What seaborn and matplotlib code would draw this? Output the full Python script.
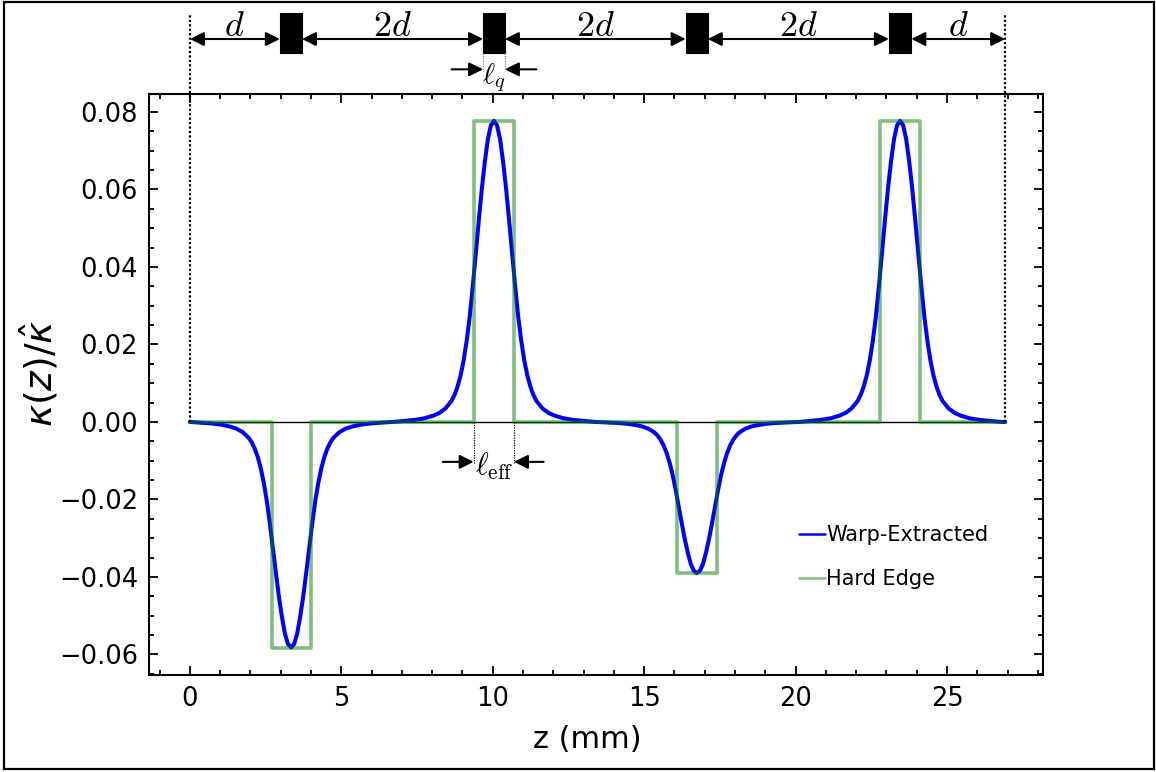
import numpy as np
import pandas as pd
import matplotlib
matplotlib.use("Agg")
import matplotlib.pyplot as plt
import seaborn as sns
from matplotlib.patches import Rectangle

# ---------------- data ----------------
quad_centers = [3.34, 10.04, 16.74, 23.45]          # mm, centres of the peaks
peak_values = [-0.0582, 0.0777, -0.0390, 0.0777]    # kappa/kappa_hat at the peak
# one-sided shape of the warp-extracted peak (fraction of peak value vs distance from centre, mm)
profile_offset = [0.0, 0.1, 0.2, 0.3, 0.4, 0.5, 0.6, 0.7, 0.8, 0.9, 1.0, 1.1,
                  1.2, 1.3, 1.4, 1.6, 1.8, 2.0, 2.3, 2.6, 3.0, 3.35]
profile_shape = [1.0, 0.985, 0.94, 0.865, 0.775, 0.67, 0.56, 0.45, 0.35, 0.27,
                 0.205, 0.155, 0.118, 0.09, 0.07, 0.045, 0.03, 0.021, 0.012,
                 0.007, 0.003, 0.0]
hard_edge_start = [2.72, 9.37, 16.07, 22.78]
hard_edge_end = [4.00, 10.70, 17.41, 24.10]
lattice_length = 26.92
quad_start = [2.97, 9.68, 16.37, 23.08]
quad_end = [3.70, 10.40, 17.10, 23.82]
span_labels = [r"$d$", r"$2d$", r"$2d$", r"$2d$", r"$d$"]
series_names = ["Warp-Extracted", "Hard Edge"]
x_label = "z (mm)"
y_label = r"$\kappa(z)/\hat{\kappa}$"

# ---------------- build series ----------------
off = np.array(profile_offset)
shp = np.array(profile_shape)
full_off = np.concatenate([-off[::-1], off[1:]])
full_shp = np.concatenate([shp[::-1], shp[1:]])
bz = [np.array([0.0])]
bk = [np.array([0.0])]
for c, a in zip(quad_centers, peak_values):
    zz = c + full_off
    kk = a * full_shp
    m = (zz > 0) & (zz < lattice_length)
    bz.append(zz[m])
    bk.append(kk[m])
bz.append(np.array([lattice_length]))
bk.append(np.array([0.0]))
warp = pd.DataFrame({"z": np.concatenate(bz), "k": np.concatenate(bk)})

hz, hk = [0.0], [0.0]
for s, e, v in zip(hard_edge_start, hard_edge_end, peak_values):
    hz += [s, s, e, e]
    hk += [0.0, v, v, 0.0]
hz.append(lattice_length)
hk.append(0.0)
hard = pd.DataFrame({"z": hz, "k": hk})

# ---------------- figure ----------------
sns.set_style("white")
plt.rcParams["font.family"] = ["DejaVu Sans"]
plt.rcParams["text.color"] = "black"
plt.rcParams["axes.labelcolor"] = "black"
plt.rcParams["xtick.color"] = "black"
plt.rcParams["ytick.color"] = "black"

fig = plt.figure(figsize=(11.56, 7.72), dpi=100)
ax = fig.add_axes([0.1289, 0.1256, 0.9023 - 0.1289, 0.8782 - 0.1256])

ax.hlines(0, 0, lattice_length, color="black", lw=1.0, zorder=1)
sns.lineplot(data=warp, x="z", y="k", ax=ax, color="#0000ff", lw=2.9,
             estimator=None, sort=True, label=series_names[0], zorder=2)
sns.lineplot(data=hard, x="z", y="k", ax=ax, color="green", alpha=0.5, lw=2.6,
             estimator=None, sort=False, label=series_names[1], zorder=3)

ylo, yhi = -0.0653, 0.0846
ax.set_xlim(-1.35, 28.17)
ax.set_ylim(ylo, yhi)
ax.set_xticks([0, 5, 10, 15, 20, 25])
ax.set_yticks([-0.06, -0.04, -0.02, 0.0, 0.02, 0.04, 0.06, 0.08])
ax.xaxis.set_minor_locator(matplotlib.ticker.MultipleLocator(1))
ax.yaxis.set_minor_locator(matplotlib.ticker.MultipleLocator(0.005))
ax.tick_params(which="both", direction="in", top=True, right=True,
               bottom=True, left=True, width=1.3, labelsize=18.5, color="black")
ax.tick_params(which="major", length=6.5, pad=8)
ax.tick_params(which="minor", length=3.5)
for sp in ax.spines.values():
    sp.set_linewidth(1.5)
    sp.set_color("black")
ax.set_xlabel(x_label, fontsize=22, labelpad=9)
ax.set_ylabel(y_label, fontsize=27, labelpad=-1)
ax.xaxis.label.set_x(0.49)
ax.yaxis.label.set_y(0.52)

leg = ax.legend(loc="center", bbox_to_anchor=(0.833, 0.2025), frameon=False,
                fontsize=15, handlelength=1.25, handletextpad=0.05,
                labelspacing=1.15)
for h in leg.get_lines():
    h.set_linewidth(1.8)

# ---------------- lattice annotation above the axes ----------------
trans = ax.get_xaxis_transform()
y0_axes = (0 - ylo) / (yhi - ylo)
y_arrow = 1.0947
y_rect_bot, y_rect_top = 1.0713, 1.140
dot = (0, (1, 1))

for xv in (0.0, lattice_length):
    ax.plot([xv, xv], [y0_axes, 1.139], transform=trans, color="black",
            lw=1.6, ls=dot, clip_on=False, zorder=4)

for s, e in zip(quad_start, quad_end):
    ax.add_patch(Rectangle((s, y_rect_bot), e - s, y_rect_top - y_rect_bot,
                           transform=trans, clip_on=False, facecolor="black",
                           edgecolor="black", lw=0.8))

span_left = [0.0] + quad_end
span_right = quad_start + [lattice_length]
arrow_kw = dict(arrowstyle="<|-|>,head_length=0.6,head_width=0.3",
                color="black", lw=1.5, shrinkA=0, shrinkB=0, mutation_scale=14)
one_kw = dict(arrowstyle="-|>,head_length=0.6,head_width=0.3",
              color="black", lw=1.5, shrinkA=0, shrinkB=0, mutation_scale=14)
for l, r, lab in zip(span_left, span_right, span_labels):
    ax.annotate("", xy=(r, y_arrow), xytext=(l, y_arrow), xycoords=trans,
                textcoords=trans, arrowprops=arrow_kw, annotation_clip=False)
    ax.text((l + r) / 2, 1.0998, lab, transform=trans, ha="center",
            va="baseline", fontsize=26, math_fontfamily="cm")

# l_q marker on the second quadrupole
qs, qe = quad_start[1], quad_end[1]
for xv in (qs, qe):
    ax.plot([xv, xv], [y_rect_bot, 1.040], transform=trans, color="gray",
            lw=0.9, ls=dot, clip_on=False)
y_lq = 1.0425
ax.annotate("", xy=(qs, y_lq), xytext=(qs - 1.04, y_lq), xycoords=trans,
            textcoords=trans, arrowprops=one_kw, annotation_clip=False)
ax.annotate("", xy=(qe, y_lq), xytext=(qe + 1.04, y_lq), xycoords=trans,
            textcoords=trans, arrowprops=one_kw, annotation_clip=False)
ax.text((qs + qe) / 2, 1.019, r"$\ell_q$", transform=trans, ha="center",
        va="baseline", fontsize=21, math_fontfamily="cm")

# l_eff marker on the second hard-edge element
es, ee = hard_edge_start[1], hard_edge_end[1]
for xv in (es, ee):
    ax.plot([xv, xv], [0, -0.0107], color="black", lw=0.9, ls=dot, zorder=1)
y_le = -0.0103
ax.annotate("", xy=(es, y_le), xytext=(es - 1.02, y_le), arrowprops=one_kw)
ax.annotate("", xy=(ee, y_le), xytext=(ee + 0.98, y_le), arrowprops=one_kw)
ax.text((es + ee) / 2, -0.0137, r"$\ell_{\rm eff}$", ha="center",
        va="baseline", fontsize=22, math_fontfamily="cm")

# figure border
fig.patches.append(Rectangle((0.0035, 0.0045), 0.9945, 0.9935,
                             transform=fig.transFigure, fill=False,
                             edgecolor="black", lw=1.6))

fig.savefig("out.png", dpi=100)
